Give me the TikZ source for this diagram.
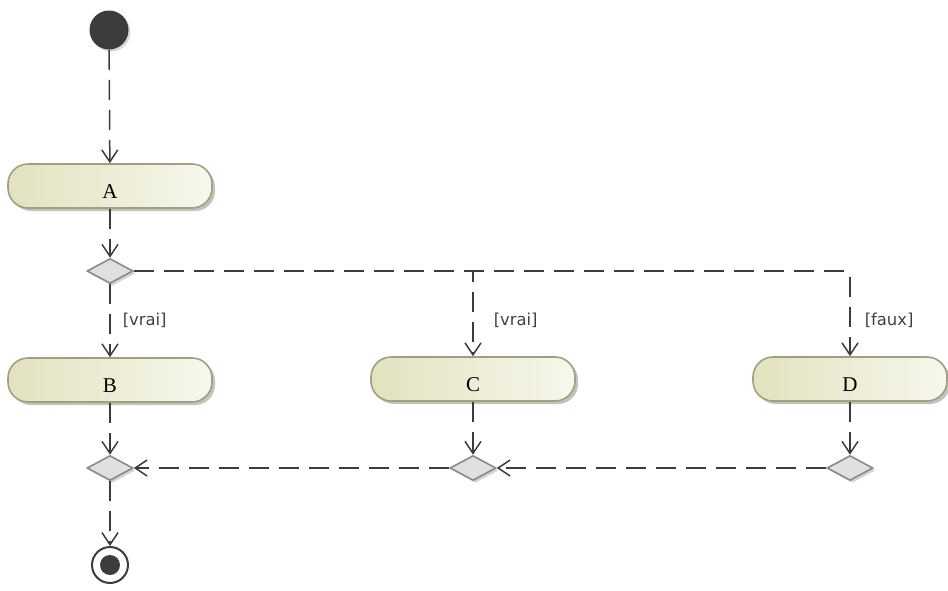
\documentclass[tikz,border=0pt]{standalone}
\usepackage{fontspec}
\setmainfont{Liberation Serif}
\newfontfamily\guardfont{DejaVu Sans}
\usetikzlibrary{positioning}
\usetikzlibrary{shapes.geometric}
\usetikzlibrary{arrows.meta}
\usetikzlibrary{shadows}

\definecolor{actfill}{HTML}{E2E2C0}
\definecolor{actlight}{HTML}{F7F7ED}
\definecolor{actline}{HTML}{A0A07E}
\definecolor{decfill}{HTML}{E0E0E0}
\definecolor{decline}{HTML}{8A8A8A}
\definecolor{flow}{HTML}{3C3C3C}

\begin{document}
\begin{tikzpicture}[x=0.5pt, y=-0.5pt,
  action/.style={draw=actline, line width=0.8pt, rounded corners=10pt, left color=actfill, right color=actlight,
    minimum width=102pt, minimum height=22pt, text height=12pt, text depth=0pt, font=\fontsize{10.5}{12}\selectfont,
    drop shadow={shadow xshift=1.5pt, shadow yshift=-1.5pt, fill=black!40, opacity=0.6}},
  decision/.style={diamond, draw=decline, line width=0.8pt, fill=decfill, minimum width=23pt, minimum height=12.5pt, inner sep=0pt,
    drop shadow={shadow xshift=1.2pt, shadow yshift=-1.2pt, fill=black!35, opacity=0.5}},
  initial/.style={circle, fill=flow, minimum size=19.5pt, inner sep=0pt,
    drop shadow={shadow xshift=1pt, shadow yshift=-1pt, fill=black!30, opacity=0.5}},
  final/.style={circle, draw=flow, line width=1pt, fill=white, minimum size=18pt, inner sep=0pt,
    path picture={\fill[flow] (path picture bounding box.center) circle (5pt);}},
  flowarrow/.style={draw=flow, line width=0.75pt, dash pattern=on 10pt off 5pt, -{Straight Barb[length=6pt,width=8pt]}},
  guard/.style={font=\guardfont\fontsize{8.2}{10}\selectfont, text=black!75, anchor=west, inner sep=1pt}
]
\useasboundingbox (0,0) rectangle (948,590);

% start and first action
\node[initial] (init) at (109,30) {};
\node[action] (A) at (110,186) {A};

% decision
\node[decision] (split) at (110,271) {};

% branches
\node[action] (B) at (110,380) {B};
\node[action] (C) at (473,379) {C};
\node[action, minimum width=97pt] (D) at (850,379) {D};

% merges
\node[decision] (joinB) at (110,468) {};
\node[decision] (joinC) at (473,468) {};
\node[decision] (joinD) at (850,468) {};

% end
\node[final] (end) at (110,565) {};

% flows
\draw[flowarrow] (init) -- (A);
\draw[flowarrow] (A) -- (split);
\draw[flowarrow] (split) -- node[guard, xshift=5pt] {[vrai]} (B);
\draw[flowarrow] (split.east) -| node[guard, pos=0.75, xshift=9pt, yshift=-3.5pt] {[vrai]} (C.north);
\draw[flowarrow, rounded corners=3pt] (split.east) -| node[guard, pos=0.75, xshift=6pt, yshift=-3.5pt] {[faux]} (D.north);

\draw[flowarrow] (B) -- (joinB);
\draw[flowarrow] (C) -- (joinC);
\draw[flowarrow] (D) -- (joinD);
\draw[flowarrow] (joinD) -- (joinC);
\draw[flowarrow] (joinC) -- (joinB);
\draw[flowarrow] (joinB) -- (end);

\end{tikzpicture}
\end{document}
